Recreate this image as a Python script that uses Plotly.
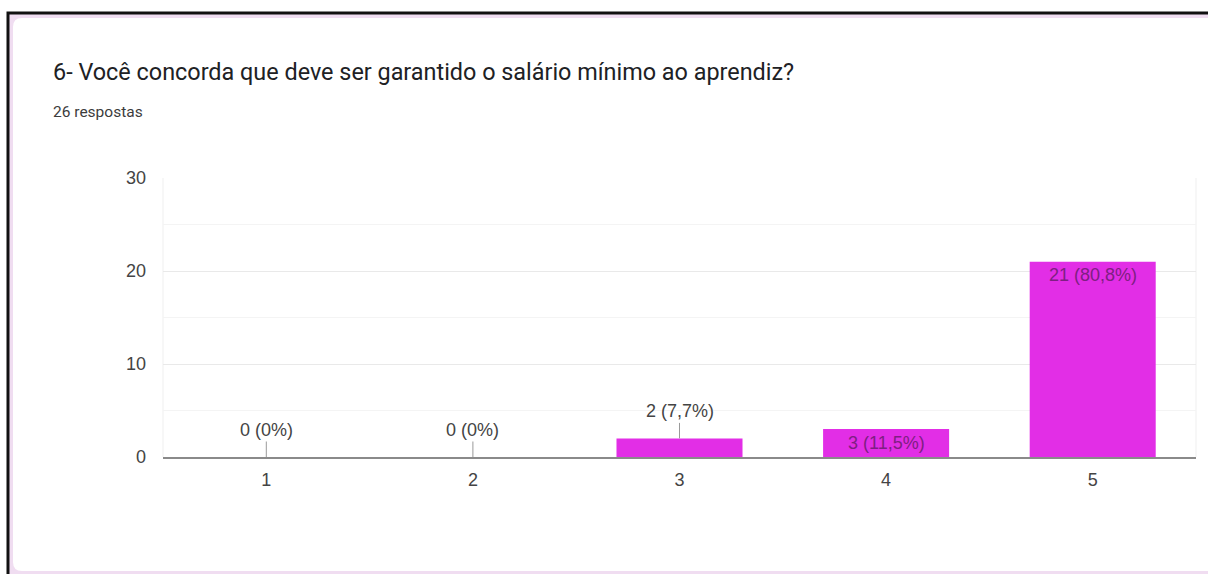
import plotly.graph_objects as go

# Survey answers: scale option -> number of responses
categories = ["1", "2", "3", "4", "5"]
counts = [0, 0, 2, 3, 21]
total = 26
y_ticks = [0, 10, 20, 30]

title_text = "6- Você concorda que deve ser garantido o salário mínimo ao aprendiz?"
subtitle_text = f"{total} respostas"

BAR = "#e22ee6"
INSIDE_TXT = "#7e1f82"
OUT_TXT = "#444444"
LABEL_FONT = "Liberation Sans, Arial"

W, H = 1208, 574
ML, MR, MT, MB = 163, 12, 178, 117
PW, PH = W - ML - MR, H - MT - MB


def px(x):
    return (x - ML) / PW


def py(y):
    return (H - MB - y) / PH


def fmt_pct(n):
    p = round(100 * n / total, 1)
    if p == 0:
        return "0%"
    return f"{p:.1f}".replace(".", ",") + "%"


labels = [f"{n} ({fmt_pct(n)})" for n in counts]

fig = go.Figure(
    go.Bar(
        x=categories,
        y=counts,
        marker=dict(color=BAR, line=dict(width=0)),
        width=0.61,
        hoverinfo="skip",
    )
)

annotations = []
# category axes place annotations by index position
for i, (n, lab) in enumerate(zip(counts, labels)):
    if n <= 2:
        # small bars: label above with a short leader line
        annotations.append(dict(
            x=i, y=n, xref="x", yref="y", text=lab,
            showarrow=True, arrowhead=0, arrowwidth=1, arrowcolor="#9a9a9a",
            ax=0, ay=-27, standoff=0,
            font=dict(family=LABEL_FONT, size=18, color=OUT_TXT),
        ))
    elif n <= 5:
        annotations.append(dict(
            x=i, y=n / 2, xref="x", yref="y", text=lab, showarrow=False,
            font=dict(family=LABEL_FONT, size=18, color=INSIDE_TXT),
        ))
    else:
        annotations.append(dict(
            x=i, y=n, xref="x", yref="y", text=lab, showarrow=False,
            yanchor="top", yshift=-1,
            font=dict(family=LABEL_FONT, size=18, color=INSIDE_TXT),
        ))

annotations += [
    dict(x=px(51), y=py(72), xref="paper", yref="paper", text=title_text,
         showarrow=False, xanchor="left", yanchor="middle",
         font=dict(family="Roboto", size=23.4, color="#202124")),
    dict(x=px(51), y=py(112), xref="paper", yref="paper", text=subtitle_text,
         showarrow=False, xanchor="left", yanchor="middle",
         font=dict(family="Roboto", size=15.5, color="#3c3c3c")),
]

# Card frame: dark border on the left/top, pink band, white rounded card
cx0, cy0, cy1, cx1, r = 13, 18, 571, 1230, 9
card_path = (
    f"M {px(cx0 + r)} {py(cy0)} L {px(cx1)} {py(cy0)} L {px(cx1)} {py(cy1)} "
    f"L {px(cx0 + r)} {py(cy1)} Q {px(cx0)} {py(cy1)} {px(cx0)} {py(cy1 - r)} "
    f"L {px(cx0)} {py(cy0 + r)} Q {px(cx0)} {py(cy0)} {px(cx0 + r)} {py(cy0)} Z"
)
shapes = [
    dict(type="rect", xref="paper", yref="paper", layer="below",
         x0=px(6.5), x1=px(W + 5), y0=py(11.5), y1=py(H + 5),
         fillcolor="#111111", line=dict(width=0)),
    dict(type="rect", xref="paper", yref="paper", layer="below",
         x0=px(9.5), x1=px(W + 5), y0=py(14.5), y1=py(H + 5),
         fillcolor="#f0ddf1", line=dict(width=0)),
    dict(type="path", xref="paper", yref="paper", layer="below",
         path=card_path, fillcolor="#ffffff", line=dict(width=0)),
    dict(type="line", xref="paper", yref="paper", layer="below",
         x0=0, x1=0, y0=0, y1=1, line=dict(color="#efefef", width=1)),
    dict(type="line", xref="paper", yref="paper", layer="below",
         x0=1, x1=1, y0=0, y1=1, line=dict(color="#efefef", width=1)),
]

fig.update_layout(
    width=W, height=H,
    margin=dict(l=ML, r=MR, t=MT, b=MB, pad=0),
    paper_bgcolor="#ffffff",
    plot_bgcolor="rgba(0,0,0,0)",
    showlegend=False,
    bargap=0.39,
    annotations=annotations,
    shapes=shapes,
    xaxis=dict(
        type="category", range=[-0.5, len(categories) - 0.5],
        showgrid=False, zeroline=False,
        showline=True, linecolor="#8a8a8a", linewidth=2,
        ticks="outside", ticklen=5, tickcolor="rgba(0,0,0,0)",
        tickfont=dict(family=LABEL_FONT, size=18, color=OUT_TXT),
        fixedrange=True,
    ),
    yaxis=dict(
        range=[0, 30], tickvals=y_ticks, showgrid=True,
        gridcolor="#e9e9e9", gridwidth=1, zeroline=False, showline=False,
        ticklabelstandoff=16,
        tickfont=dict(family=LABEL_FONT, size=18, color=OUT_TXT),
        minor=dict(dtick=5, tick0=0, showgrid=True, gridcolor="#f4f4f4", gridwidth=1),
        fixedrange=True,
    ),
)

fig.write_html("out.html")
